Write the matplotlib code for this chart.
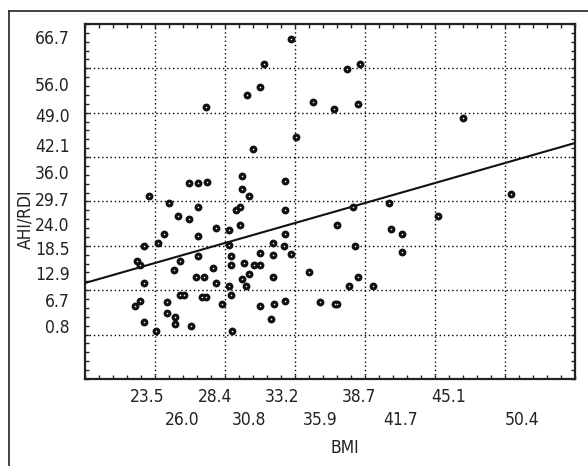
import numpy as np
import matplotlib
matplotlib.use("Agg")
import matplotlib.pyplot as plt
from matplotlib.lines import Line2D

plt.rcParams['font.family'] = ['DejaVu Sans']
plt.rcParams['font.stretch'] = 'condensed'

# pontos (BMI, AHI/RDI)
bmi = [33.82, 31.87, 30.67, 31.60, 27.71, 34.18, 31.08, 37.86, 38.77, 35.38,
       36.93, 38.62, 46.17, 49.57, 38.24, 40.85, 44.36, 37.10, 40.99, 41.78,
       38.39, 41.78, 35.13, 38.62, 38.00, 39.68, 35.90, 36.95, 37.10, 23.64,
       26.53, 27.18, 27.80, 25.06, 27.18, 25.72, 26.51, 24.70, 24.29, 23.28,
       27.18, 28.48, 29.38, 30.29, 30.29, 30.81, 33.39, 30.14, 29.90, 33.39,
       30.17, 33.39, 32.53, 33.30, 29.38, 31.60, 32.51, 33.82, 29.52, 22.76,
       23.00, 25.87, 27.18, 25.47, 28.21, 27.01, 27.56, 28.47, 23.28, 29.38,
       29.52, 29.52, 25.87, 26.15, 27.42, 27.71, 23.02, 22.64, 24.96, 28.85,
       24.96, 25.49, 25.49, 23.28, 26.65, 24.17, 29.63, 30.43, 31.19, 31.60,
       30.81, 30.29, 32.51, 30.57, 31.60, 32.64, 33.41, 32.39]
ahi = [66.70, 61.00, 53.93, 55.69, 51.13, 44.42, 41.62, 59.79, 61.00, 52.34,
       50.67, 51.88, 48.62, 31.36, 28.46, 29.30, 26.34, 24.29, 23.49, 22.23,
       19.43, 18.13, 13.57, 12.36, 10.31, 10.31, 6.66, 6.27, 6.27, 30.97,
       33.80, 33.80, 34.21, 29.30, 28.46, 26.41, 25.59, 22.30, 20.25, 19.43,
       21.85, 23.53, 23.08, 35.46, 32.57, 30.97, 34.25, 28.46, 27.64, 27.64,
       24.36, 22.30, 20.25, 19.43, 19.84, 17.90, 17.45, 17.79, 17.33, 16.08,
       15.17, 16.08, 17.33, 14.02, 14.41, 12.43, 12.43, 11.17, 11.17, 10.31,
       15.23, 8.32, 8.32, 8.32, 7.87, 7.87, 7.02, 5.82, 6.66, 6.27,
       4.22, 3.35, 1.71, 2.12, 1.25, 0.11, 0.11, 15.69, 15.23, 15.23,
       13.18, 11.97, 12.43, 10.31, 5.82, 6.20, 7.02, 2.92]

# reta de regressao
slope = 0.909
intercept = -6.26

x_ticks_row1 = [23.5, 28.4, 33.2, 38.7, 45.1]
x_ticks_row2 = [26.0, 30.8, 35.9, 41.7, 50.4]
y_ticks = [0.8, 6.7, 12.9, 18.5, 24.0, 29.7, 36.0, 42.1, 49.0, 56.0, 66.7]

xlim = (19.06, 54.18)
ylim = (-10.83, 70.13)

fig = plt.figure(figsize=(5.88, 4.66), dpi=100)
ax = fig.add_axes([0.1446, 0.1867, 0.8333, 0.7618])

# moldura externa
fig.add_artist(Line2D([9 / 588, 9 / 588], [1 - 11 / 466, -0.1], color='#333333', lw=1.3))
fig.add_artist(Line2D([9 / 588, 1.1], [1 - 11 / 466, 1 - 11 / 466], color='#333333', lw=1.3))

ax.set_xlim(xlim)
ax.set_ylim(ylim)

gx = np.linspace(xlim[0], xlim[1], 8)
gy = np.linspace(ylim[0], ylim[1], 9)
ax.set_xticks(gx[1:-1])
ax.set_yticks(gy[1:-1])
ax.set_xticks(np.linspace(xlim[0], xlim[1], 36), minor=True)
ax.set_yticks(np.linspace(ylim[0], ylim[1], 41), minor=True)
ax.tick_params(which='both', direction='in', length=3, width=1, top=True, right=True,
               labelbottom=False, labelleft=False, color='#222222')
ax.grid(True, which='major', linestyle=(0, (1, 2)), color='black', linewidth=1)
for s in ax.spines.values():
    s.set_linewidth(1.6)
    s.set_color('#222222')

xs = np.array(xlim)
ax.plot(xs, slope * xs + intercept, color='#111111', lw=1.5, zorder=3)

ax.scatter(bmi, ahi, s=32, color='#111111', zorder=4, linewidths=0)
ax.scatter(bmi, ahi, s=1.2, color='white', zorder=5, linewidths=0)

fs = 12.5
for v in y_ticks:
    ax.text(-0.031, v, f"{v:.1f}", transform=ax.get_yaxis_transform(),
            ha='right', va='center', fontsize=fs, color='#222222')
for v in x_ticks_row1:
    ax.text(v, -0.05, f"{v:.1f}", transform=ax.get_xaxis_transform(),
            ha='center', va='center', fontsize=fs, color='#222222')
for v in x_ticks_row2:
    ax.text(v, -0.115, f"{v:.1f}", transform=ax.get_xaxis_transform(),
            ha='center', va='center', fontsize=fs, color='#222222')

ax.text(0.531, -0.194, 'BMI', transform=ax.transAxes, ha='center', va='center',
        fontsize=fs, color='#222222')
ax.text(-0.122, 0.449, 'AHI/RDI', transform=ax.transAxes, ha='center', va='center',
        rotation=90, fontsize=fs, color='#222222')

fig.savefig('out.png', dpi=100)
